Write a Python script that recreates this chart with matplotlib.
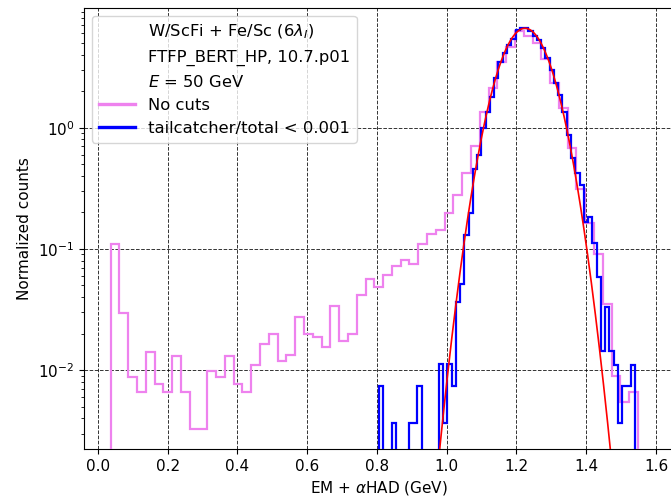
import numpy as np
import matplotlib
matplotlib.use("Agg")
import matplotlib.pyplot as plt
from matplotlib.lines import Line2D

plt.rcParams['font.family'] = ['DejaVu Sans']
plt.rcParams['font.size'] = 11
plt.rcParams['mathtext.fontset'] = 'dejavusans'

# ---------------- data ----------------
# "No cuts" histogram: 60 equal bins between these limits
pink_range = (0.0364, 1.5484)
pink_values = [
    0.109, 0.0295, 0.0088, 0.0066, 0.0142, 0.0077, 0.0066, 0.0132, 0.0066, 0.0033,
    0.0033, 0.0099, 0.0088, 0.0132, 0.0077, 0.0066, 0.0111, 0.0165, 0.0198, 0.0120,
    0.0133, 0.0275, 0.0198, 0.0187, 0.0154, 0.0341, 0.0175, 0.0198, 0.0418, 0.0562,
    0.0483, 0.0615, 0.0720, 0.0811, 0.0748, 0.110, 0.132, 0.143, 0.198, 0.279,
    0.426, 0.711, 1.34, 2.11, 3.46, 4.65, 6.27, 5.68, 4.97, 3.68,
    2.32, 1.45, 0.676, 0.31, 0.163, 0.091, 0.0352, 0.0089, 0.0055, 0.0066,
]

# "tailcatcher/total < 0.001" histogram: 60 equal bins between these limits
blue_range = (0.806, 1.5398)
blue_values = [
    0.0074, 0, 0, 0.0037, 0, 0, 0, 0.0037, 0.0037, 0.0074,
    0, 0, 0, 0, 0.0112, 0.0037, 0.0112, 0.0074, 0.0368, 0.0512,
    0.130, 0.197, 0.457, 0.596, 0.989, 1.355, 1.80, 2.58, 3.50, 4.10,
    4.81, 5.39, 6.39, 6.60, 6.67, 6.27, 5.73, 5.28, 4.57, 3.73,
    2.99, 2.32, 1.86, 1.355, 0.871, 0.560, 0.421, 0.337, 0.168, 0.185,
    0.111, 0.0584, 0.0145, 0.0334, 0.0145, 0.0111, 0.0037, 0.0074, 0.0074, 0.0111,
]

# Gaussian fit (red)
fit_amp = 6.6
fit_mean = 1.2245
fit_sigma = 0.0612
fit_range = (0.90, 1.55)

legend_text = [
    r"W/ScFi + Fe/Sc (6$\lambda_I$)",
    "FTFP_BERT_HP, 10.7.p01",
    r"$E$ = 50 GeV",
]
label_pink = "No cuts"
label_blue = "tailcatcher/total < 0.001"
xticks = [0.0, 0.2, 0.4, 0.6, 0.8, 1.0, 1.2, 1.4, 1.6]

# ---------------- plot ----------------
fig = plt.figure(figsize=(6.71, 4.98), dpi=100)
ax = fig.add_axes([84 / 671, 49 / 498, 589.4 / 671, 441 / 498])

pink_edges = np.linspace(pink_range[0], pink_range[1], len(pink_values) + 1)
blue_edges = np.linspace(blue_range[0], blue_range[1], len(blue_values) + 1)

ax.set_yscale('log')
ax.stairs(pink_values, pink_edges, color='violet', lw=1.6, baseline=0, zorder=3)
ax.stairs(blue_values, blue_edges, color='blue', lw=1.6, baseline=0, zorder=4)

xf = np.linspace(fit_range[0], fit_range[1], 500)
yf = fit_amp * np.exp(-0.5 * ((xf - fit_mean) / fit_sigma) ** 2)
ax.plot(xf, yf, color='red', lw=1.2, zorder=5)

ax.set_xlim(-0.04, 1.65)
ax.set_ylim(2.24e-3, 9.7)
ax.set_xticks(xticks)
ax.grid(True, which='major', color='k', ls='--', lw=0.7, alpha=0.8)
ax.set_axisbelow(True)

ax.set_xlabel(r"EM + $\alpha$HAD (GeV)")
ax.set_ylabel("Normalized counts")

handles = [Line2D([], [], color='none') for _ in legend_text]
handles += [Line2D([], [], color='violet', lw=2.4),
            Line2D([], [], color='blue', lw=2.4)]
labels = legend_text + [label_pink, label_blue]
leg = ax.legend(handles, labels, loc='upper left', handlelength=2.2,
                labelspacing=0.5, fontsize=11.8)
leg.set_zorder(10)

fig.savefig("out.png", dpi=100)
